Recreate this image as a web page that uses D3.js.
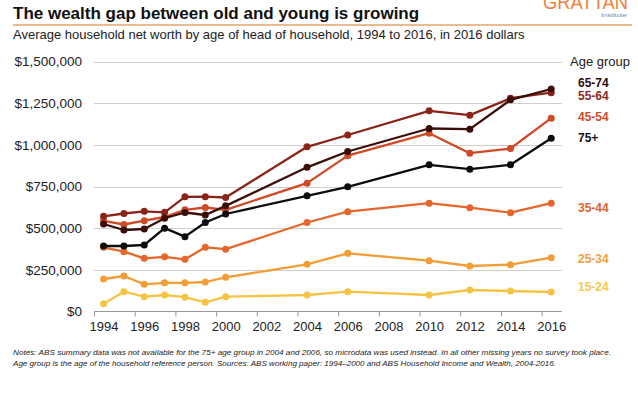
<!DOCTYPE html>
<html>
<head>
<meta charset="utf-8">
<script src="https://cdn.jsdelivr.net/npm/d3@7"></script>
<style>
  body { margin: 0; background: #fff; }
  svg { display: block; font-family: "Liberation Sans", Arial, sans-serif; }
</style>
</head>
<body>
<script>
// Survey years (gaps are years with no survey)
var years = [1994, 1995, 1996, 1997, 1998, 1999, 2000, 2004, 2006, 2010, 2012, 2014, 2016];

// Average net worth, thousands of 2016 dollars
var age15_24 = [47, 119, 89, 99, 86, 55, 89, 99, 119, 99, 129, 123, 117];
var age25_34 = [195, 213, 163, 172, 172, 177, 205, 283, 349, 305, 273, 281, 323];
var age35_44 = [385, 359, 319, 328, 313, 385, 374, 534, 599, 650, 623, 593, 650];
var age45_54 = [544, 522, 545, 567, 610, 624, 610, 770, 935, 1070, 950, 978, 1160];
var age55_64 = [571, 588, 601, 595, 688, 689, 684, 988, 1059, 1204, 1178, 1280, 1313];
var age65_74 = [525, 489, 495, 560, 594, 579, 634, 865, 960, 1098, 1094, 1270, 1335];
var age75    = [393, 393, 399, 500, 449, 534, 585, 694, 748, 880, 854, 880, 1040];

var groups   = ["15-24", "25-34", "35-44", "45-54", "55-64", "65-74", "75+"];
var colours  = ["#f6c445", "#f29d35", "#e5672c", "#cf4a25", "#8a2419", "#3a0d09", "#0d0d0d"];
var labelColours = ["#f6c84e", "#f0a13f", "#e0632b", "#d24b27", "#8e2a1f", "#2a0b08", "#111111"];
// value (thousands) at which each end label sits
var labelAt  = [149, 315, 623, 1170, 1296, 1372, 1040];

var yTicks = [0, 250, 500, 750, 1000, 1250, 1500];
var xTicks = [1994, 1996, 1998, 2000, 2002, 2004, 2006, 2008, 2010, 2012, 2014, 2016];

var series = [age15_24, age25_34, age35_44, age45_54, age55_64, age65_74, age75].map(function(vals, i) {
    return {
        key: groups[i],
        colour: colours[i],
        values: vals.map(function(v, j) { return {year: years[j], value: v}; })
    };
});

var W = 638, H = 394;
var svg = d3.select("body").append("svg").attr("width", W).attr("height", H);

// points sit in the middle of each year, ticks on the year boundary
var offset = 0.47;
var xScale = d3.scaleLinear().domain([1994, 2017]).range([94, 562]);
var yScale = d3.scaleLinear().domain([0, 1500]).range([311.5, 61.5]);

// title block
svg.append("text")
    .attr("x", 13).attr("y", 19)
    .attr("font-size", "17px").attr("font-weight", "bold").attr("fill", "#111")
    .text("The wealth gap between old and young is growing");

svg.append("line")
    .attr("x1", 13).attr("x2", 632).attr("y1", 25).attr("y2", 25)
    .attr("stroke", "#e3a469").attr("stroke-width", 1.3);

svg.append("text")
    .attr("x", 13).attr("y", 39)
    .attr("font-size", "13px").attr("fill", "#222")
    .text("Average household net worth by age of head of household, 1994 to 2016, in 2016 dollars");

// logo (top is cropped in the original)
svg.append("text")
    .attr("x", 543).attr("y", 9)
    .attr("font-size", "21px").attr("fill", "#ee8240")
    .attr("textLength", 85).attr("lengthAdjust", "spacingAndGlyphs")
    .text("GRATTAN");
svg.append("text")
    .attr("x", 601).attr("y", 17)
    .attr("font-size", "6px").attr("fill", "#888")
    .attr("textLength", 26).attr("lengthAdjust", "spacingAndGlyphs")
    .text("Institute");

// gridlines
svg.append("g").selectAll("line")
    .data(yTicks.slice(1))
    .enter().append("line")
    .attr("x1", 94).attr("x2", 562)
    .attr("y1", function(d) { return Math.round(yScale(d)) + 0.5; })
    .attr("y2", function(d) { return Math.round(yScale(d)) + 0.5; })
    .attr("stroke", "#cfcfcf").attr("stroke-width", 1);

// y axis labels
var yAxis = d3.axisLeft(yScale).tickValues(yTicks).tickSize(0).tickPadding(0)
    .tickFormat(function(d) { return "$" + d3.format(",")(d * 1000); });
var gy = svg.append("g").attr("transform", "translate(82,0)").call(yAxis);
gy.select(".domain").remove();
gy.selectAll("text").attr("font-size", "13.5px").attr("fill", "#222")
    .attr("font-family", "Liberation Sans, Arial, sans-serif");

// x axis
var xAxis = d3.axisBottom(xScale).tickValues(xTicks).tickSize(5).tickPadding(5)
    .tickFormat(function(d) { return d; });
var gx = svg.append("g").attr("transform", "translate(0,311.5)").call(xAxis);
gx.select(".domain").attr("stroke", "#999").attr("d", "M94,0H562");
gx.selectAll(".tick line").attr("stroke", "#999");
gx.selectAll("text")
    .attr("x", xScale(1994 + offset) - xScale(1994))
    .attr("font-size", "13px").attr("fill", "#222")
    .attr("font-family", "Liberation Sans, Arial, sans-serif");

// lines
var line = d3.line()
    .x(function(d) { return xScale(d.year + offset); })
    .y(function(d) { return yScale(d.value); });

var sg = svg.append("g").selectAll("g")
    .data(series)
    .enter().append("g");

sg.append("path")
    .attr("d", function(d) { return line(d.values); })
    .attr("fill", "none")
    .attr("stroke", function(d) { return d.colour; })
    .attr("stroke-width", 2.3)
    .attr("stroke-linejoin", "round");

sg.selectAll("circle")
    .data(function(d) { return d.values.map(function(v) { return {v: v, c: d.colour}; }); })
    .enter().append("circle")
    .attr("cx", function(d) { return xScale(d.v.year + offset); })
    .attr("cy", function(d) { return yScale(d.v.value); })
    .attr("r", 3.5)
    .attr("fill", function(d) { return d.c; });

// legend / end labels
svg.append("text")
    .attr("x", 570).attr("y", 66)
    .attr("font-size", "13px").attr("fill", "#222")
    .text("Age group");

svg.append("g").selectAll("text")
    .data(groups)
    .enter().append("text")
    .attr("x", 578)
    .attr("y", function(d, i) { return yScale(labelAt[i]); })
    .attr("dy", "0.36em")
    .attr("font-size", "12px").attr("font-weight", "bold")
    .attr("fill", function(d, i) { return labelColours[i]; })
    .text(function(d) { return d; });

// notes
var notes = [
    "Notes: ABS summary data was not available for the 75+ age group in 2004 and 2006, so microdata was used instead. In all other missing years no survey took place.",
    "Age group is the age of the household reference person. Sources: ABS working paper: 1994\u20132000 and ABS Household Income and Wealth, 2004-2016."
];
var noteWidths = [598, 543];
svg.append("g").selectAll("text")
    .data(notes)
    .enter().append("text")
    .attr("x", 13)
    .attr("y", function(d, i) { return 355 + i * 10.5; })
    .attr("font-size", "7.6px").attr("font-style", "italic").attr("fill", "#222")
    .attr("textLength", function(d, i) { return noteWidths[i]; })
    .attr("lengthAdjust", "spacingAndGlyphs")
    .text(function(d) { return d; });
</script>
</body>
</html>
